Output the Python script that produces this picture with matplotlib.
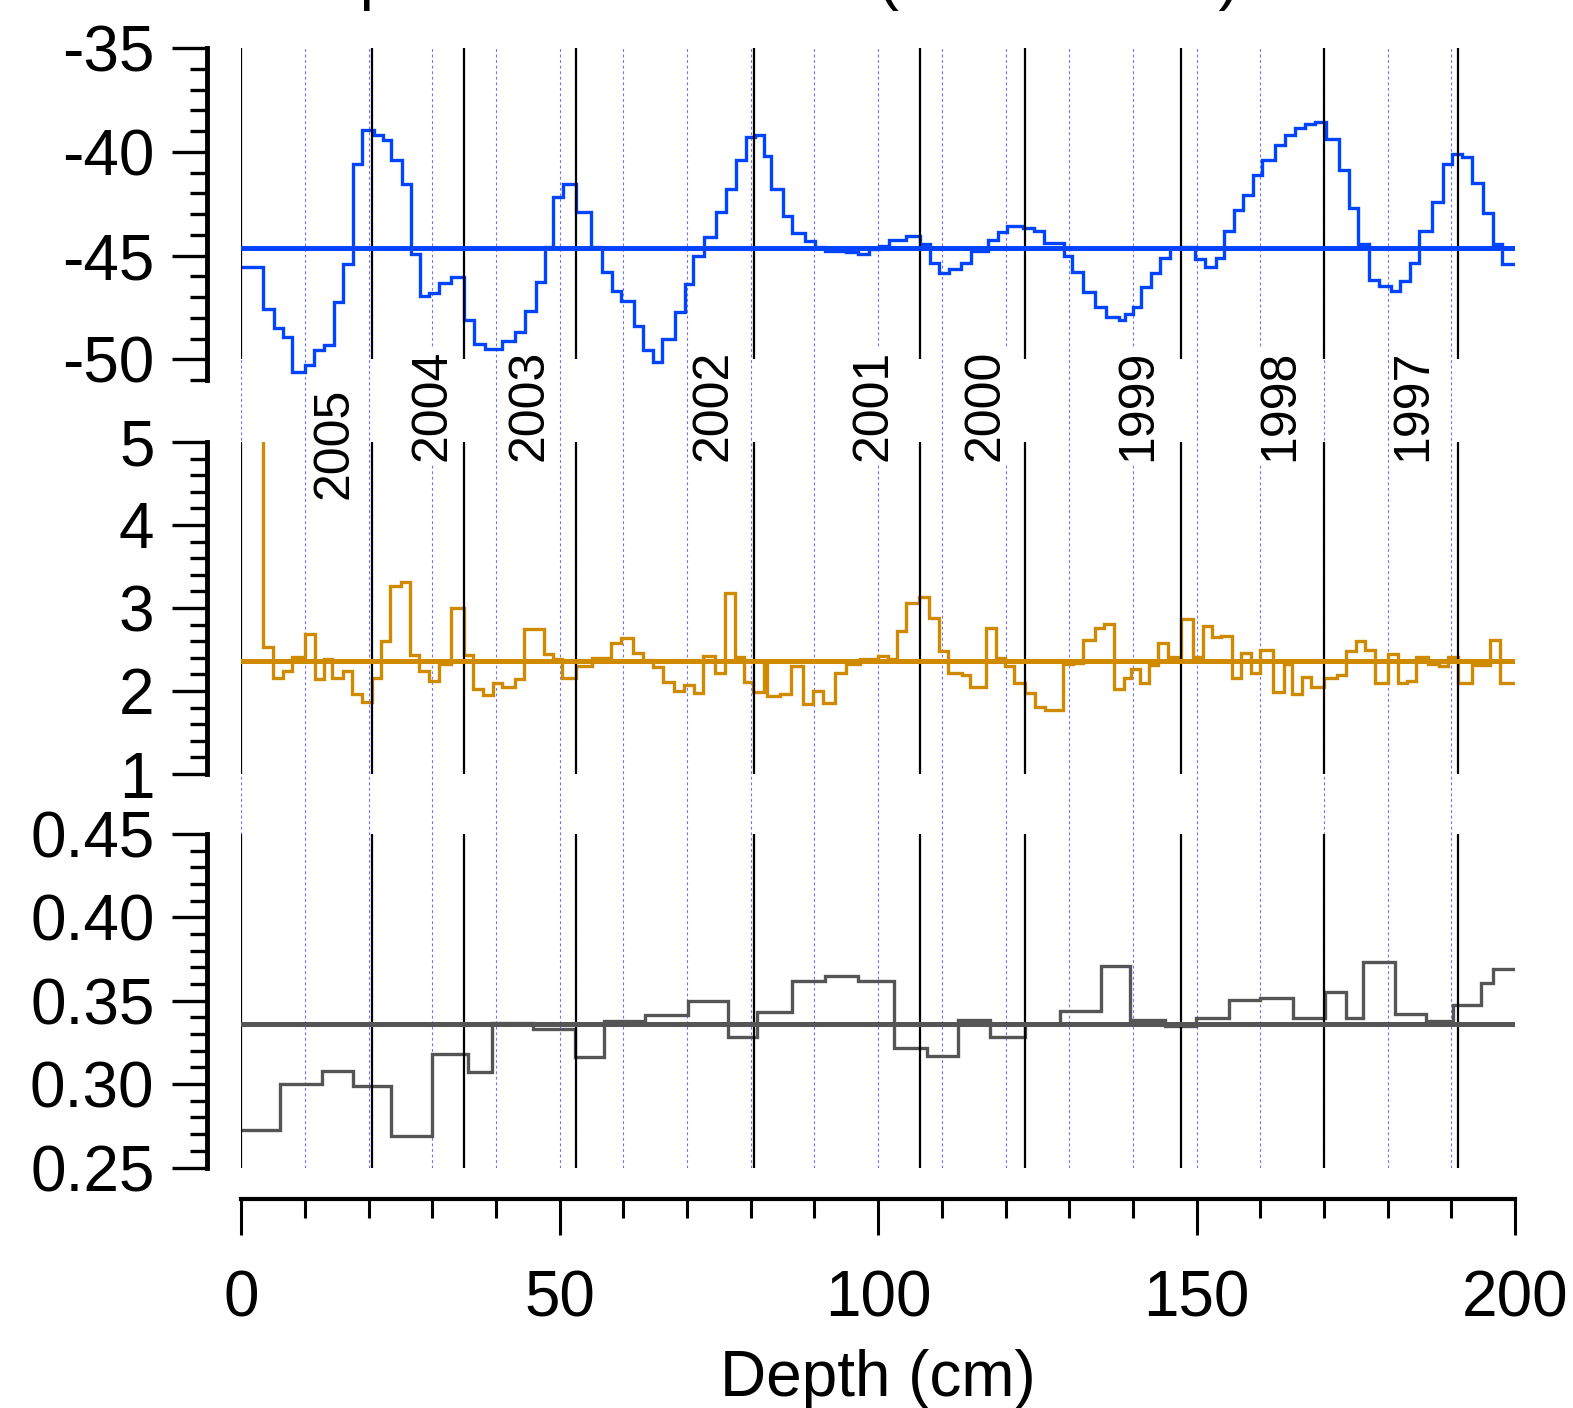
import numpy as np
import matplotlib.pyplot as plt
from matplotlib.ticker import MultipleLocator, FormatStrFormatter

plt.rcParams['font.family'] = ['Liberation Sans', 'DejaVu Sans']
plt.rcParams['axes.unicode_minus'] = False

# year boundaries (depth, cm) and year names
year_bounds = [0, 20.5, 35.0, 52.5, 80.5, 106.5, 123.0, 147.5, 170.0, 191.0]
years = ["2005", "2004", "2003", "2002", "2001", "2000", "1999", "1998", "1997"]
year_label_depth = [14.6, 30.1, 45.3, 74.1, 99.2, 116.8, 140.8, 163.1, 184.0]
grid_depths = np.arange(0, 201, 10)

# top panel (blue) - sample edges and values
top_edges = [0, 3.4, 5.1, 6.6, 8.0, 10.0, 11.4, 13.0, 14.6, 16.0, 17.6, 19.0, 20.8,
             22.2, 23.5, 25.2, 26.6, 28.0, 29.4, 31.0, 33.0, 35.0, 36.6, 38.2, 41.0,
             43.0, 44.6, 46.2, 47.7, 49.0, 50.5, 52.5, 54.9, 56.6, 58.2, 59.7, 61.6,
             63.0, 64.6, 66.1, 68.1, 69.7, 71.0, 72.6, 74.6, 76.1, 77.7, 79.2, 80.7,
             82.1, 83.1, 85.0, 86.4, 88.5, 90.1, 91.7, 94.9, 96.9, 98.5, 100.1, 101.7,
             104.4, 106.6, 108.2, 109.6, 111.2, 113.0, 114.6, 117.2, 118.8, 120.2,
             122.8, 124.4, 126.0, 129.2, 130.4, 132.2, 134.0, 135.7, 137.8, 138.8,
             140.0, 141.3, 142.8, 144.2, 145.8, 147.8, 149.8, 151.4, 153.0, 154.3,
             155.8, 157.3, 158.9, 160.3, 162.3, 163.9, 165.5, 167.0, 168.6, 170.4,
             172.4, 174.0, 175.4, 177.0, 178.6, 180.6, 181.9, 183.5, 184.9, 186.9,
             188.7, 190.1, 191.7, 193.3, 194.9, 196.5, 197.9, 200.0]
top_vals = [-45.57, -47.58, -48.47, -48.95, -50.61, -50.29, -49.56, -49.32, -47.26,
            -45.41, -40.57, -38.93, -39.17, -39.45, -40.41, -41.54, -44.92, -46.94,
            -46.83, -46.34, -46.02, -48.11, -49.27, -49.49, -49.11, -48.71, -47.66,
            -46.26, -44.60, -42.19, -41.54, -42.91, -44.60, -45.81, -46.69, -47.18,
            -48.38, -49.55, -50.13, -49.0, -47.74, -46.37, -45.0, -44.09, -42.88,
            -41.78, -40.41, -39.29, -39.20, -40.22, -41.78, -43.10, -43.92, -44.28,
            -44.60, -44.76, -44.85, -44.92, -44.68, -44.52, -44.24, -44.07, -44.44,
            -45.36, -45.86, -45.65, -45.36, -44.76, -44.24, -43.88, -43.60, -43.68,
            -43.80, -44.39, -45.0, -45.81, -46.77, -47.50, -47.98, -48.11, -47.82,
            -47.47, -46.53, -45.86, -45.12, -44.63, -44.60, -45.17, -45.57, -45.12,
            -43.80, -42.80, -42.10, -41.14, -40.38, -39.69, -39.20, -38.85, -38.67,
            -38.56, -39.37, -40.90, -42.70, -44.44, -46.18, -46.45, -46.69, -46.21,
            -45.38, -43.83, -42.43, -40.61, -40.12, -40.25, -41.51, -42.94, -44.44,
            -45.41]
top_mean = -44.63

# middle panel (orange)
mid_edges = [0, 3.45, 5.0, 6.5, 8.0, 10.0, 11.5, 13.0, 14.3, 15.9, 17.4, 18.9, 20.5,
             21.9, 23.4, 25.0, 26.5, 27.9, 29.5, 31.0, 32.9, 34.9, 36.4, 38.0, 39.5,
             41.0, 42.9, 44.4, 47.6, 49.0, 50.3, 52.5, 55.0, 58.0, 59.6, 61.5, 63.1,
             64.7, 66.2, 67.9, 69.5, 71.1, 72.5, 74.4, 76.0, 77.5, 78.9, 80.4, 82.1,
             82.6, 84.6, 86.3, 88.2, 89.8, 91.3, 93.2, 94.9, 97.1, 100.0, 101.6, 103.0,
             104.4, 106.4, 108.0, 109.6, 111.0, 113.1, 114.5, 116.9, 118.5, 119.9,
             121.3, 123.0, 124.6, 126.2, 129.1, 130.6, 132.2, 134.0, 135.5, 137.0,
             138.6, 139.7, 141.1, 142.5, 144.0, 145.5, 147.5, 149.5, 151.0, 152.5,
             153.9, 155.5, 157.0, 158.5, 160.0, 162.0, 163.7, 165.0, 166.6, 168.0,
             170.0, 172.0, 173.5, 175.0, 176.5, 178.0, 180.0, 181.6, 183.0, 184.5,
             186.4, 188.0, 189.5, 191.0, 193.2, 196.1, 197.6, 200.0]
mid_vals = [7.0, 2.526, 2.153, 2.241, 2.413, 2.686, 2.141, 2.385, 2.161, 2.241, 1.960,
            1.864, 2.153, 2.605, 3.267, 3.315, 2.433, 2.241, 2.124, 2.325, 2.995, 2.433,
            2.024, 1.952, 2.100, 2.052, 2.141, 2.746, 2.445, 2.385, 2.161, 2.301, 2.400,
            2.581, 2.634, 2.453, 2.373, 2.293, 2.106, 2.000, 2.072, 1.980, 2.425, 2.220,
            3.176, 2.413, 2.112, 1.992, 2.33, 1.940, 1.960, 2.301, 1.840, 2.004, 1.860,
            2.212, 2.325, 2.381, 2.421, 2.381, 2.726, 3.063, 3.127, 2.882, 2.485, 2.220,
            2.192, 2.044, 2.762, 2.393, 2.301, 2.092, 1.980, 1.811, 1.771, 2.325, 2.333,
            2.613, 2.754, 2.806, 2.020, 2.153, 2.261, 2.100, 2.313, 2.573, 2.405, 2.866,
            2.405, 2.786, 2.645, 2.665, 2.153, 2.461, 2.220, 2.493, 1.992, 2.325, 1.964,
            2.172, 2.052, 2.153, 2.192, 2.485, 2.605, 2.493, 2.100, 2.445, 2.092, 2.124,
            2.413, 2.325, 2.301, 2.413, 2.100, 2.313, 2.613, 2.100]
mid_mean = 2.365

# bottom panel (grey)
bot_edges = [0, 6.0, 12.6, 17.6, 23.5, 30.0, 35.6, 39.4, 45.8, 52.4, 57.0, 63.4, 70.2,
             76.4, 80.9, 86.5, 91.6, 96.9, 102.5, 107.6, 112.5, 117.5, 123.1, 128.5,
             135.0, 139.5, 145.1, 149.9, 155.1, 160.0, 165.2, 170.1, 173.5, 176.1,
             181.1, 186.1, 190.2, 194.6, 196.6, 200.0]
bot_vals = [0.2722, 0.3000, 0.3080, 0.2986, 0.2690, 0.3182, 0.3070, 0.3365, 0.3330,
            0.3160, 0.3376, 0.3416, 0.3496, 0.3280, 0.3432, 0.3616, 0.3646, 0.3616,
            0.3216, 0.3170, 0.3386, 0.3280, 0.3360, 0.3436, 0.3706, 0.3386, 0.3346,
            0.3396, 0.3506, 0.3516, 0.3396, 0.3550, 0.3396, 0.3732, 0.3420, 0.3380,
            0.3476, 0.3606, 0.3692]
bot_mean = 0.336

W, H = 1573, 1408
X0, X1 = 241.3, 1515


def box(x0, y0, x1, y1):
    return [x0 / W, 1 - y1 / H, (x1 - x0) / W, (y1 - y0) / H]


fig = plt.figure(figsize=(W / 100, H / 100), dpi=100)

# dotted 10 cm grid running through all panels
grid = fig.add_axes(box(X0, 48, X1, 1167.5), zorder=0)
grid.set_xlim(0, 200)
grid.set_ylim(0, 1)
grid.axis('off')
for d in grid_depths:
    grid.axvline(d, color='#7070ff', lw=0.8, ls=(0, (2.5, 2.5)))


def panel(y0, y1, edges, vals, mean, color, ylim, major, minor, line_lo, fmt=None):
    ax = fig.add_axes(box(X0, y0, X1, y1), zorder=1)
    ax.patch.set_visible(False)
    ax.set_xlim(0, 200)
    ax.set_ylim(*ylim)
    ax.vlines(year_bounds, line_lo, ylim[1], color='black', lw=1.6)
    ax.stairs(vals, edges, color=color, lw=2.4, baseline=None)
    ax.axhline(mean, color=color, lw=3.6)
    for s in ['top', 'right', 'bottom']:
        ax.spines[s].set_visible(False)
    ax.spines['left'].set_position(('outward', 24.5))
    ax.spines['left'].set_linewidth(3.5)
    ax.set_xticks([])
    ax.yaxis.set_major_locator(MultipleLocator(major))
    ax.yaxis.set_minor_locator(MultipleLocator(minor))
    if fmt:
        ax.yaxis.set_major_formatter(FormatStrFormatter(fmt))
    ax.tick_params(axis='y', which='major', length=25, width=2.4, labelsize=46, pad=13)
    ax.tick_params(axis='y', which='minor', length=12, width=2.4)
    return ax


panel(48, 380, top_edges, top_vals, top_mean, '#0044ff', (-51, -35), 5, 1, -50)
panel(442, 774, mid_edges, mid_vals, mid_mean, '#cf8a00', (1, 5), 1, 0.2, 1)
panel(834, 1167.5, bot_edges, bot_vals, bot_mean, '#555555', (0.25, 0.45), 0.05, 0.01,
      0.25, '%.2f')

# shared depth axis at the bottom
axx = fig.add_axes(box(X0, 1190, X1, 1199), zorder=1)
axx.patch.set_visible(False)
axx.set_xlim(0, 200)
for s in ['top', 'right', 'left']:
    axx.spines[s].set_visible(False)
axx.spines['bottom'].set_linewidth(3)
axx.set_yticks([])
axx.xaxis.set_major_locator(MultipleLocator(50))
axx.xaxis.set_minor_locator(MultipleLocator(10))
axx.tick_params(axis='x', which='major', length=26, width=2.2, labelsize=46, pad=25)
axx.tick_params(axis='x', which='minor', length=14, width=2.2)
axx.set_xlabel('Depth (cm)', fontsize=46, labelpad=14)

# year labels between the top two panels
label_top = [388] + [350] * 8
for i, yr in enumerate(years):
    d = year_label_depth[i]
    fig.text((X0 + d / 200 * (X1 - X0)) / W, 1 - label_top[i] / H, yr, rotation=90,
             ha='center', va='top', fontsize=36, zorder=5,
             bbox=dict(facecolor='white', edgecolor='none', pad=1))

# title, mostly cut off above the figure
fig.text(278 / W, 1 + 1.6 / H, 'Depositional records (2005\u20131997)', fontsize=46,
         ha='left', va='baseline')

fig.savefig('out.png', dpi=100)
